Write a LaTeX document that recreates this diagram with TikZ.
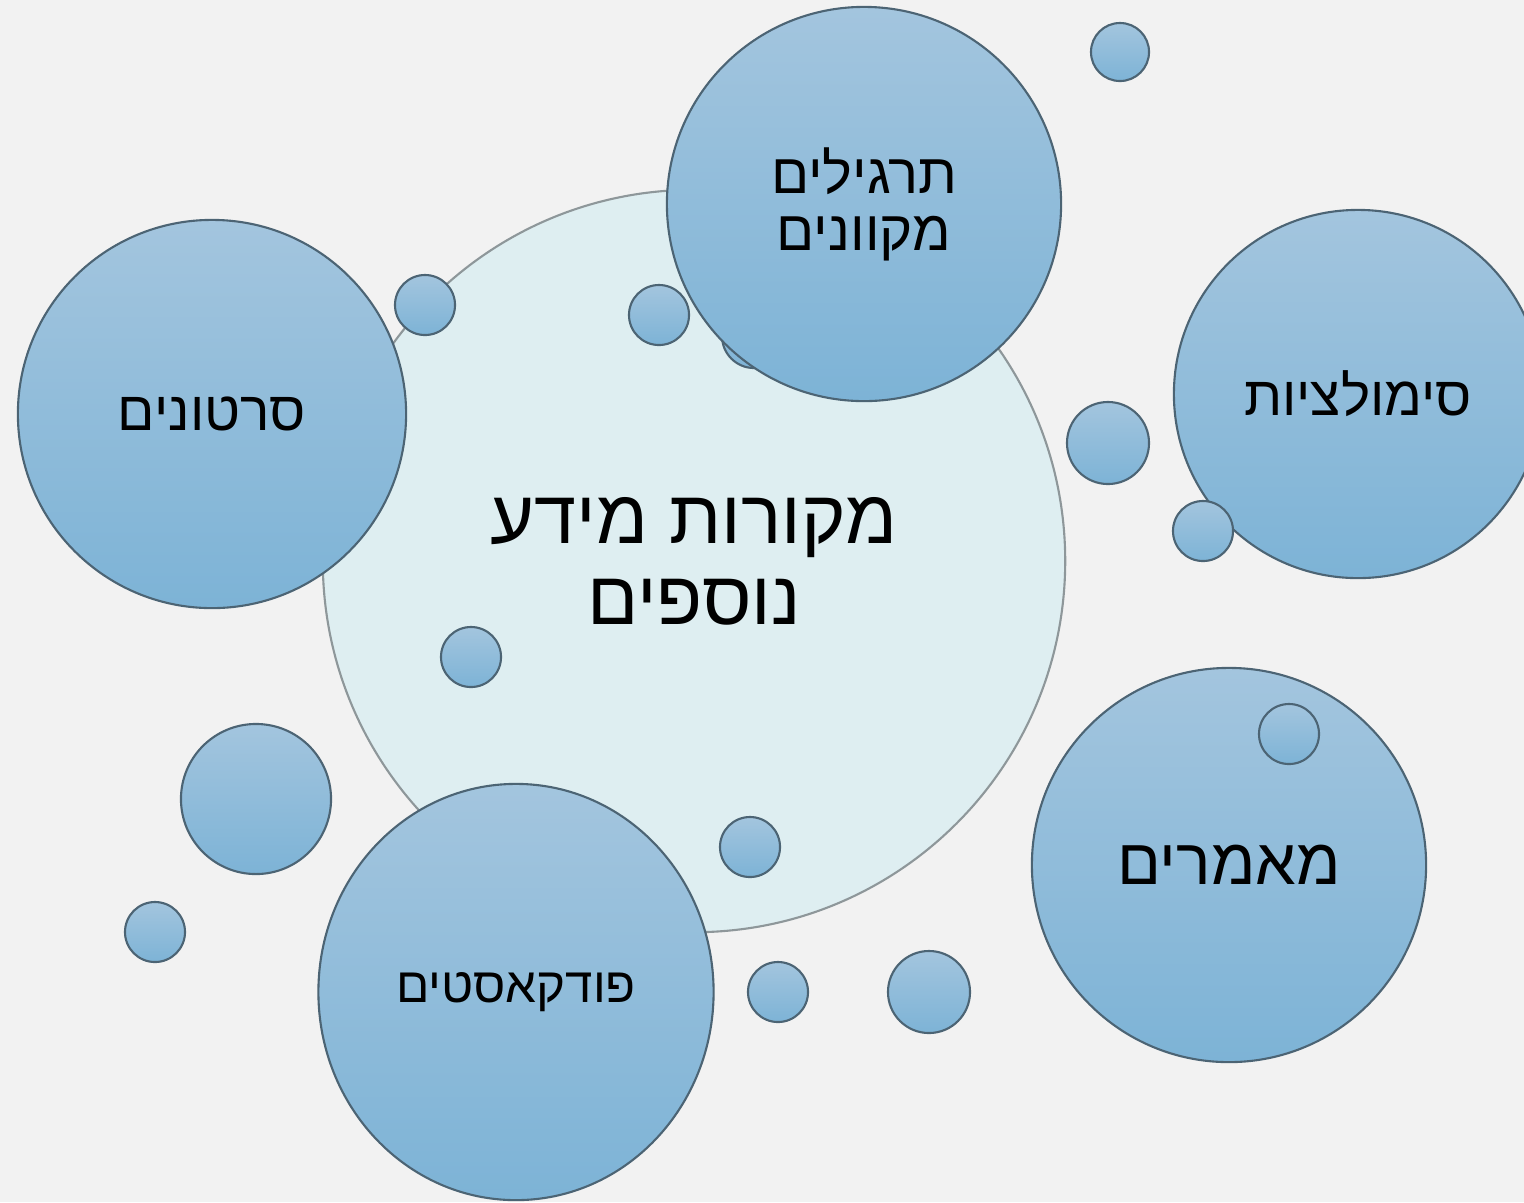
\documentclass[tikz,border=0pt]{standalone}
\usepackage{fontspec}
\usepackage{tikz}
\usetikzlibrary{shapes.geometric}
\TeXXeTstate=1
\newfontfamily\hebfont[Script=Hebrew]{Liberation Sans}
\definecolor{bg}{HTML}{F2F2F2}
\definecolor{pale}{HTML}{DEEEF1}
\definecolor{bluetop}{HTML}{A3C5DE}
\definecolor{bluebot}{HTML}{7DB3D6}
\definecolor{rim}{HTML}{4C6474}
\definecolor{hub}{HTML}{8E979A}

\begin{document}
\begin{tikzpicture}[x=0.01cm,y=-0.01cm]
					\tikzstyle{bubble}=[circle,draw=rim,line width=0.6pt,inner sep=0pt,top color=bluetop,bottom color=bluebot,align=center,font=\hebfont]
					\tikzstyle{hubnode}=[circle,draw=hub,line width=0.6pt,fill=pale,inner sep=0pt,align=center,font=\hebfont]
					\fill[bg] (0,0) rectangle (1524,1202);
					\useasboundingbox (0,0) rectangle (1524,1202);
					\clip (0,0) rectangle (1524,1202);
					\node[hubnode,minimum size=7.42cm] (hub) at (694,561) {};
					\node[font=\hebfont\fontsize{21.5}{23}\selectfont,align=center] (title) at (694,561) {\beginR מקורות מידע\endR\\\beginR נוספים\endR};
					\node[bubble,minimum size=0.64cm] (b0) at (754,336) {};
					\node[bubble,minimum size=3.94cm,font=\hebfont\fontsize{16}{16.2}\selectfont] (exercises) at (864,204) {\beginR תרגילים\endR\\\beginR מקוונים\endR};
					\node[bubble,minimum size=3.88cm,font=\hebfont\fontsize{15.7}{16}\selectfont] (videos) at (212,414) {\beginR סרטונים\endR};
					\node[bubble,minimum size=3.68cm,font=\hebfont\fontsize{15.7}{17}\selectfont] (sims) at (1358,394) {\beginR סימולציות\endR};
					\node[bubble,minimum size=3.94cm,font=\hebfont\fontsize{18.4}{20}\selectfont] (articles) at (1229,865) {\beginR מאמרים\endR};
					\node[bubble,ellipse,minimum width=3.95cm,minimum height=4.16cm,font=\hebfont\fontsize{14}{16}\selectfont] (podcasts) at (516,992) {\beginR פודקאסטים\endR};
					\node[bubble,minimum size=0.58cm] (b1) at (1120,52) {};
					\node[bubble,minimum size=0.60cm] (b2) at (425,305) {};
					\node[bubble,minimum size=0.60cm] (b3) at (659,315) {};
					\node[bubble,minimum size=0.82cm] (b4) at (1108,443) {};
					\node[bubble,minimum size=0.60cm] (b5) at (1203,531) {};
					\node[bubble,minimum size=0.60cm] (b6) at (471,657) {};
					\node[bubble,minimum size=1.50cm] (b7) at (256,799) {};
					\node[bubble,minimum size=0.60cm] (b8) at (155,932) {};
					\node[bubble,minimum size=0.60cm] (b9) at (750,847) {};
					\node[bubble,minimum size=0.60cm] (b10) at (778,992) {};
					\node[bubble,minimum size=0.82cm] (b11) at (929,992) {};
					\node[bubble,minimum size=0.60cm] (b12) at (1289,734) {};
					\end{tikzpicture}
\end{document}
